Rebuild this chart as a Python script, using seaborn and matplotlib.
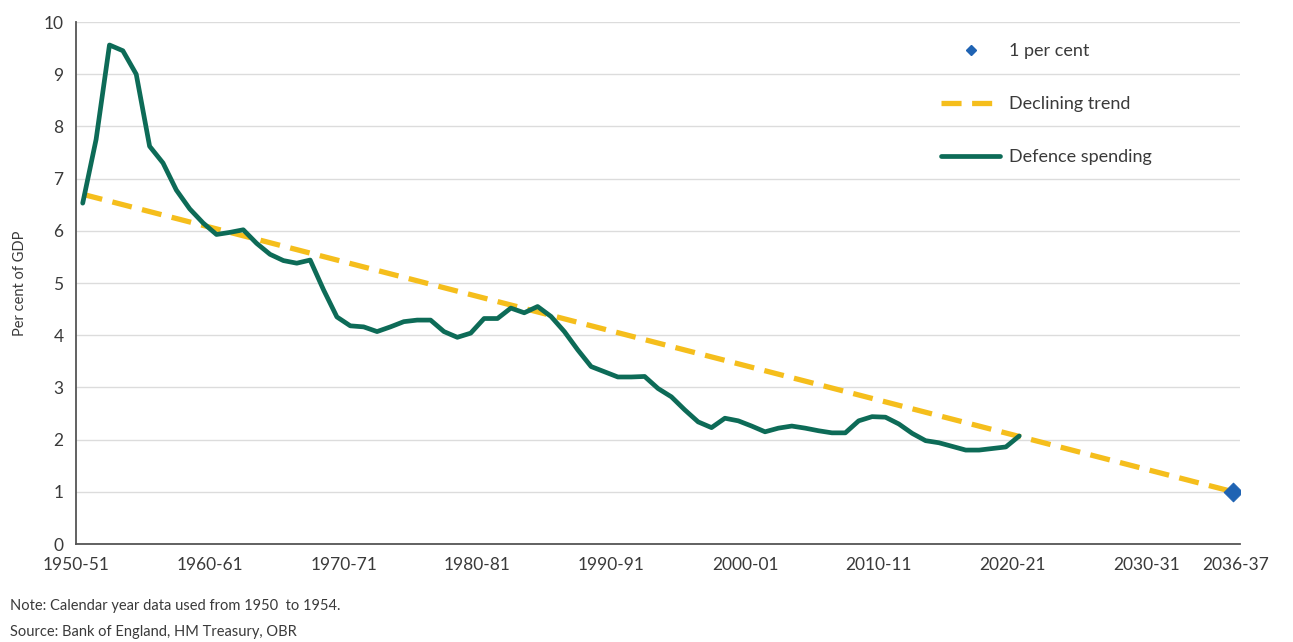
import numpy as np
import pandas as pd
import matplotlib
matplotlib.use("Agg")
import matplotlib.pyplot as plt
from matplotlib.lines import Line2D
import seaborn as sns

# ── Data ───────────────────────────────────────────────────────
YEARS = list(range(1950, 2021))
DEFENCE = [
    6.53, 7.75, 9.56, 9.45, 9.00, 7.62, 7.30, 6.78, 6.42, 6.15,
    5.93, 5.97, 6.02, 5.76, 5.55, 5.43, 5.38, 5.44, 4.87, 4.35,
    4.18, 4.16, 4.07, 4.16, 4.26, 4.29, 4.29, 4.07, 3.96, 4.04,
    4.32, 4.32, 4.52, 4.43, 4.55, 4.36, 4.07, 3.72, 3.40, 3.30,
    3.20, 3.20, 3.21, 2.98, 2.82, 2.57, 2.34, 2.23, 2.41, 2.36,
    2.26, 2.15, 2.22, 2.26, 2.22, 2.17, 2.13, 2.13, 2.36, 2.44,
    2.43, 2.30, 2.12, 1.98, 1.94, 1.87, 1.80, 1.80, 1.83, 1.86,
    2.07,
]
TREND_YEARS = [1950, 2036]
TREND = [6.70, 1.00]
TARGET_YEAR = [2036]
TARGET = [1.0]

TICK_YEARS = [1950, 1960, 1970, 1980, 1990, 2000, 2010, 2020, 2030, 2036]
TICK_LABELS = ["1950-51", "1960-61", "1970-71", "1980-81", "1990-91",
               "2000-01", "2010-11", "2020-21", "2030-31", "2036-37"]

GREEN = "#0d6b57"
YELLOW = "#f5be1c"
BLUE = "#1f63b3"
TEXT = "#3a3a3a"

sns.set_style("white")
plt.rcParams["font.family"] = ["Lato", "DejaVu Sans"]

# each financial year sits in the middle of its category slot
defence_df = pd.DataFrame({"x": np.array(YEARS) + 0.5, "value": DEFENCE})
trend_df = pd.DataFrame({"x": np.array(TREND_YEARS) + 0.5, "value": TREND})
target_df = pd.DataFrame({"x": np.array(TARGET_YEAR) + 0.5, "value": TARGET})

fig = plt.figure(figsize=(12.93, 6.42), dpi=100)
ax = fig.add_axes([0.0588, 0.1526, 0.9002, 0.8131])

sns.scatterplot(data=target_df, x="x", y="value", ax=ax, marker="D",
                s=90, color=BLUE, edgecolor=BLUE, zorder=5,
                label="1 per cent")
sns.lineplot(data=trend_df, x="x", y="value", ax=ax, color=YELLOW,
             linewidth=3.8, dashes=False, zorder=3,
             label="Declining trend")
ax.lines[-1].set_dashes((3.8, 2))
sns.lineplot(data=defence_df, x="x", y="value", ax=ax, color=GREEN,
             linewidth=3.4, zorder=4, label="Defence spending")

ax.set_xlim(1950, 2037)
ax.set_ylim(0, 10)
ax.set_yticks(range(0, 11))
ax.set_xticks([y + 0.7 if y == 2036 else y for y in TICK_YEARS])
ax.set_xticklabels(TICK_LABELS)
ax.set_xlabel("")
ax.set_ylabel("Per cent of GDP", fontsize=10.5, color=TEXT, labelpad=12)

ax.grid(axis="y", color="#dcdcdc", linewidth=1.0)
ax.set_axisbelow(True)
ax.spines[["top", "right"]].set_visible(False)
for side in ["left", "bottom"]:
    ax.spines[side].set_color("#555555")
    ax.spines[side].set_linewidth(1.3)
ax.tick_params(axis="both", direction="out", length=6, width=1.3,
               color="#555555", labelsize=12.5, labelcolor=TEXT, pad=3)

# legend rebuilt with a small diamond handle
handles, labels = ax.get_legend_handles_labels()
handles[0] = Line2D([], [], marker="D", markersize=5, color=BLUE,
                    linestyle="none")
leg = ax.legend(handles, labels, loc="upper left",
                bbox_to_anchor=(0.729, 0.991), frameon=False, fontsize=13,
                handlelength=3.3, handletextpad=0.45, labelspacing=2.05)
for t in leg.get_texts():
    t.set_color(TEXT)

fig.text(0.008, 0.056, "Note: Calendar year data used from 1950  to 1954.",
         fontsize=10.5, color=TEXT, va="center")
fig.text(0.008, 0.016, "Source: Bank of England, HM Treasury, OBR",
         fontsize=10.5, color=TEXT, va="center")

fig.savefig("out.png", dpi=100)
plt.close(fig)
